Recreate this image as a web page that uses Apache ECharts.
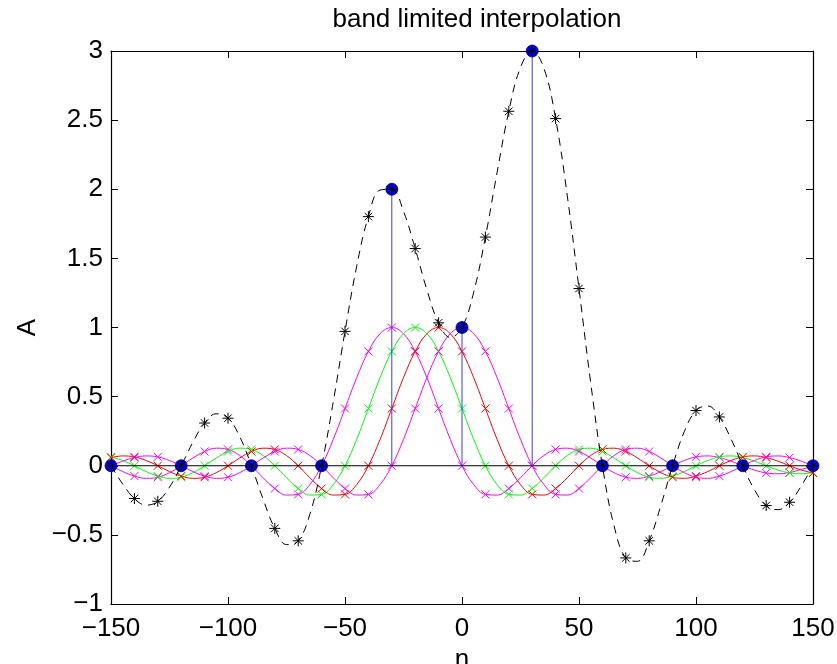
<!DOCTYPE html>
<html>
<head>
<meta charset="utf-8">
<script src="https://cdn.jsdelivr.net/npm/echarts@6/dist/echarts.min.js"></script>
<style>html,body{margin:0;padding:0;background:#fff}#c{width:837px;height:664px}</style>
</head>
<body>
<div id="c"></div>
<script>
// fine grid of n (step 5); markers drawn at every 10
const nFine = [-150,-145,-140,-135,-130,-125,-120,-115,-110,-105,-100,-95,-90,-85,-80,-75,-70,-65,-60,-55,-50,-45,-40,-35,-30,-25,-20,-15,-10,-5,0,5,10,15,20,25,30,35,40,45,50,55,60,65,70,75,80,85,90,95,100,105,110,115,120,125,130,135,140,145,150];

// kernel centred at -30 (magenta)
const magentaA = [0,-.042,-.075,-.091,-.083,-.050,0,.056,.103,.127,.118,.074,0,-.087,-.165,-.212,-.207,-.136,0,.191,.414,.637,.827,.955,1,.955,.827,.637,.414,.191,0,-.136,-.207,-.212,-.165,-.087,0,.074,.118,.127,.103,.056,0,-.050,-.083,-.091,-.075,-.042,0,.038,.064,.071,.059,.033,0,-.031,-.052,-.058,-.049,-.027,0];
// kernel centred at -20 (green)
const green = [.064,.038,0,-.042,-.075,-.091,-.083,-.050,0,.056,.103,.127,.118,.074,0,-.087,-.165,-.212,-.207,-.136,0,.191,.414,.637,.827,.955,1,.955,.827,.637,.414,.191,0,-.136,-.207,-.212,-.165,-.087,0,.074,.118,.127,.103,.056,0,-.050,-.083,-.091,-.075,-.042,0,.038,.064,.071,.059,.033,0,-.031,-.052,-.058,-.049];
// kernel centred at -10 (red)
const red = [.059,.071,.064,.038,0,-.042,-.075,-.091,-.083,-.050,0,.056,.103,.127,.118,.074,0,-.087,-.165,-.212,-.207,-.136,0,.191,.414,.637,.827,.955,1,.955,.827,.637,.414,.191,0,-.136,-.207,-.212,-.165,-.087,0,.074,.118,.127,.103,.056,0,-.050,-.083,-.091,-.075,-.042,0,.038,.064,.071,.059,.033,0,-.031,-.052];
// kernel centred at 0 (magenta)
const magentaB = [0,.033,.059,.071,.064,.038,0,-.042,-.075,-.091,-.083,-.050,0,.056,.103,.127,.118,.074,0,-.087,-.165,-.212,-.207,-.136,0,.191,.414,.637,.827,.955,1,.955,.827,.637,.414,.191,0,-.136,-.207,-.212,-.165,-.087,0,.074,.118,.127,.103,.056,0,-.050,-.083,-.091,-.075,-.042,0,.038,.064,.071,.059,.033,0];
// interpolated signal (black dashed)
const interp = [0,-.132,-.237,-.285,-.257,-.155,0,.170,.309,.376,.344,.211,0,-.242,-.453,-.570,-.543,-.350,0,.464,.972,1.443,1.802,1.994,2,1.840,1.571,1.273,1.034,.928,1,1.255,1.654,2.122,2.564,2.882,3,2.875,2.511,1.952,1.282,.599,0,-.436,-.667,-.691,-.543,-.287,0,.247,.399,.432,.353,.193,0,-.174,-.288,-.318,-.264,-.146,0];

// samples (stems)
const sampleN = [-150,-120,-90,-60,-30,0,30,60,90,120,150];
const sampleA = [0,0,0,0,2,1,3,0,0,0,0];

const FONT = 'Liberation Sans, Arial, Helvetica, sans-serif';
const FS = 26;
const X_SYM = 'path://M0,0L10,10M10,0L0,10';
const STAR_SYM = 'path://M5,0L5,10M0,5L10,5M1.6,1.6L8.4,8.4M8.4,1.6L1.6,8.4';
const fmt = v => (v < 0 ? '\u2212' + String(Math.abs(v)) : String(v));

function pairs(xs, ys) { return xs.map((x, i) => [x, ys[i]]); }

function kernelSeries(vals, color) {
  return {
    type: 'line', data: pairs(nFine, vals), smooth: 0.4,
    showSymbol: true, showAllSymbol: true,
    symbol: (v, p) => (p.dataIndex % 2 === 0 ? X_SYM : 'none'),
    symbolSize: 8,
    lineStyle: { color: color, width: 1 },
    itemStyle: { color: color, borderColor: color, borderWidth: 1 },
    z: 2, silent: true
  };
}

const chart = echarts.init(document.getElementById('c'), null, { renderer: 'canvas' });
function axisCommon() {
  return {
    type: 'value',
    axisLine: { show: true, onZero: false, lineStyle: { color: '#000', width: 1.2 } },
    axisTick: { show: true, inside: true, length: 7, lineStyle: { color: '#000', width: 1 } },
    splitLine: { show: false }
  };
}
chart.setOption({
  animation: false,
  backgroundColor: '#fff',
  title: {
    text: 'band limited interpolation', left: 472, top: 2, textAlign: 'center',
    textStyle: { fontFamily: FONT, fontSize: 26, fontWeight: 'normal', color: '#000' }
  },
  grid: { left: 111, right: 24, top: 51, bottom: 60, containLabel: false, outerBoundsMode: 'none' },
  xAxis: [
    Object.assign(axisCommon(), {
      position: 'bottom', min: -150, max: 150, interval: 50,
      name: 'n', nameLocation: 'middle', nameGap: 42,
      nameTextStyle: { fontFamily: FONT, fontSize: FS, color: '#000' },
      axisLabel: { formatter: fmt, fontFamily: FONT, fontSize: FS, color: '#000', margin: 12 }
    }),
    Object.assign(axisCommon(), {
      position: 'top', min: -150, max: 150, interval: 50, axisLabel: { show: false }
    })
  ],
  yAxis: [
    Object.assign(axisCommon(), {
      position: 'left', min: -1, max: 3, interval: 0.5,
      name: 'A', nameLocation: 'middle', nameGap: 62, nameRotate: 90,
      nameTextStyle: { fontFamily: FONT, fontSize: FS, color: '#000' },
      axisLabel: { formatter: fmt, fontFamily: FONT, fontSize: FS, color: '#000', margin: 8 }
    }),
    Object.assign(axisCommon(), {
      position: 'right', min: -1, max: 3, interval: 0.5, axisLabel: { show: false }
    })
  ],
  series: [
    kernelSeries(magentaA, '#ff00ff'),
    kernelSeries(green, '#00ff00'),
    kernelSeries(red, '#ff0000'),
    kernelSeries(magentaB, '#ff00ff'),
    {
      type: 'line', data: [[sampleN[0], 0], [sampleN[sampleN.length - 1], 0]],
      showSymbol: false, lineStyle: { color: '#000', width: 1 }, z: 3, silent: true
    },
    {
      type: 'custom', data: pairs(sampleN, sampleA), z: 4, silent: true,
      renderItem: (params, api) => {
        const p0 = api.coord([api.value(0), 0]);
        const p1 = api.coord([api.value(0), api.value(1)]);
        return { type: 'line', shape: { x1: p0[0], y1: p0[1], x2: p1[0], y2: p1[1] },
                 style: { stroke: '#3a3aff', lineWidth: 1 } };
      }
    },
    {
      type: 'scatter', data: pairs(sampleN, sampleA), symbol: 'circle', symbolSize: 12,
      itemStyle: { color: '#0000ff', borderColor: '#000080', borderWidth: 0.8, opacity: 1 }, z: 5, silent: true
    },
    {
      type: 'line', data: pairs(nFine, interp), smooth: 0.4,
      showSymbol: true, showAllSymbol: true,
      symbol: (v, p) => (p.dataIndex % 2 === 0 ? STAR_SYM : 'none'),
      symbolSize: 11,
      lineStyle: { color: '#000', width: 1, type: [8, 6] },
      itemStyle: { color: '#000', borderColor: '#000', borderWidth: 1 },
      z: 6, silent: true
    }
  ]
});
</script>
</body>
</html>
